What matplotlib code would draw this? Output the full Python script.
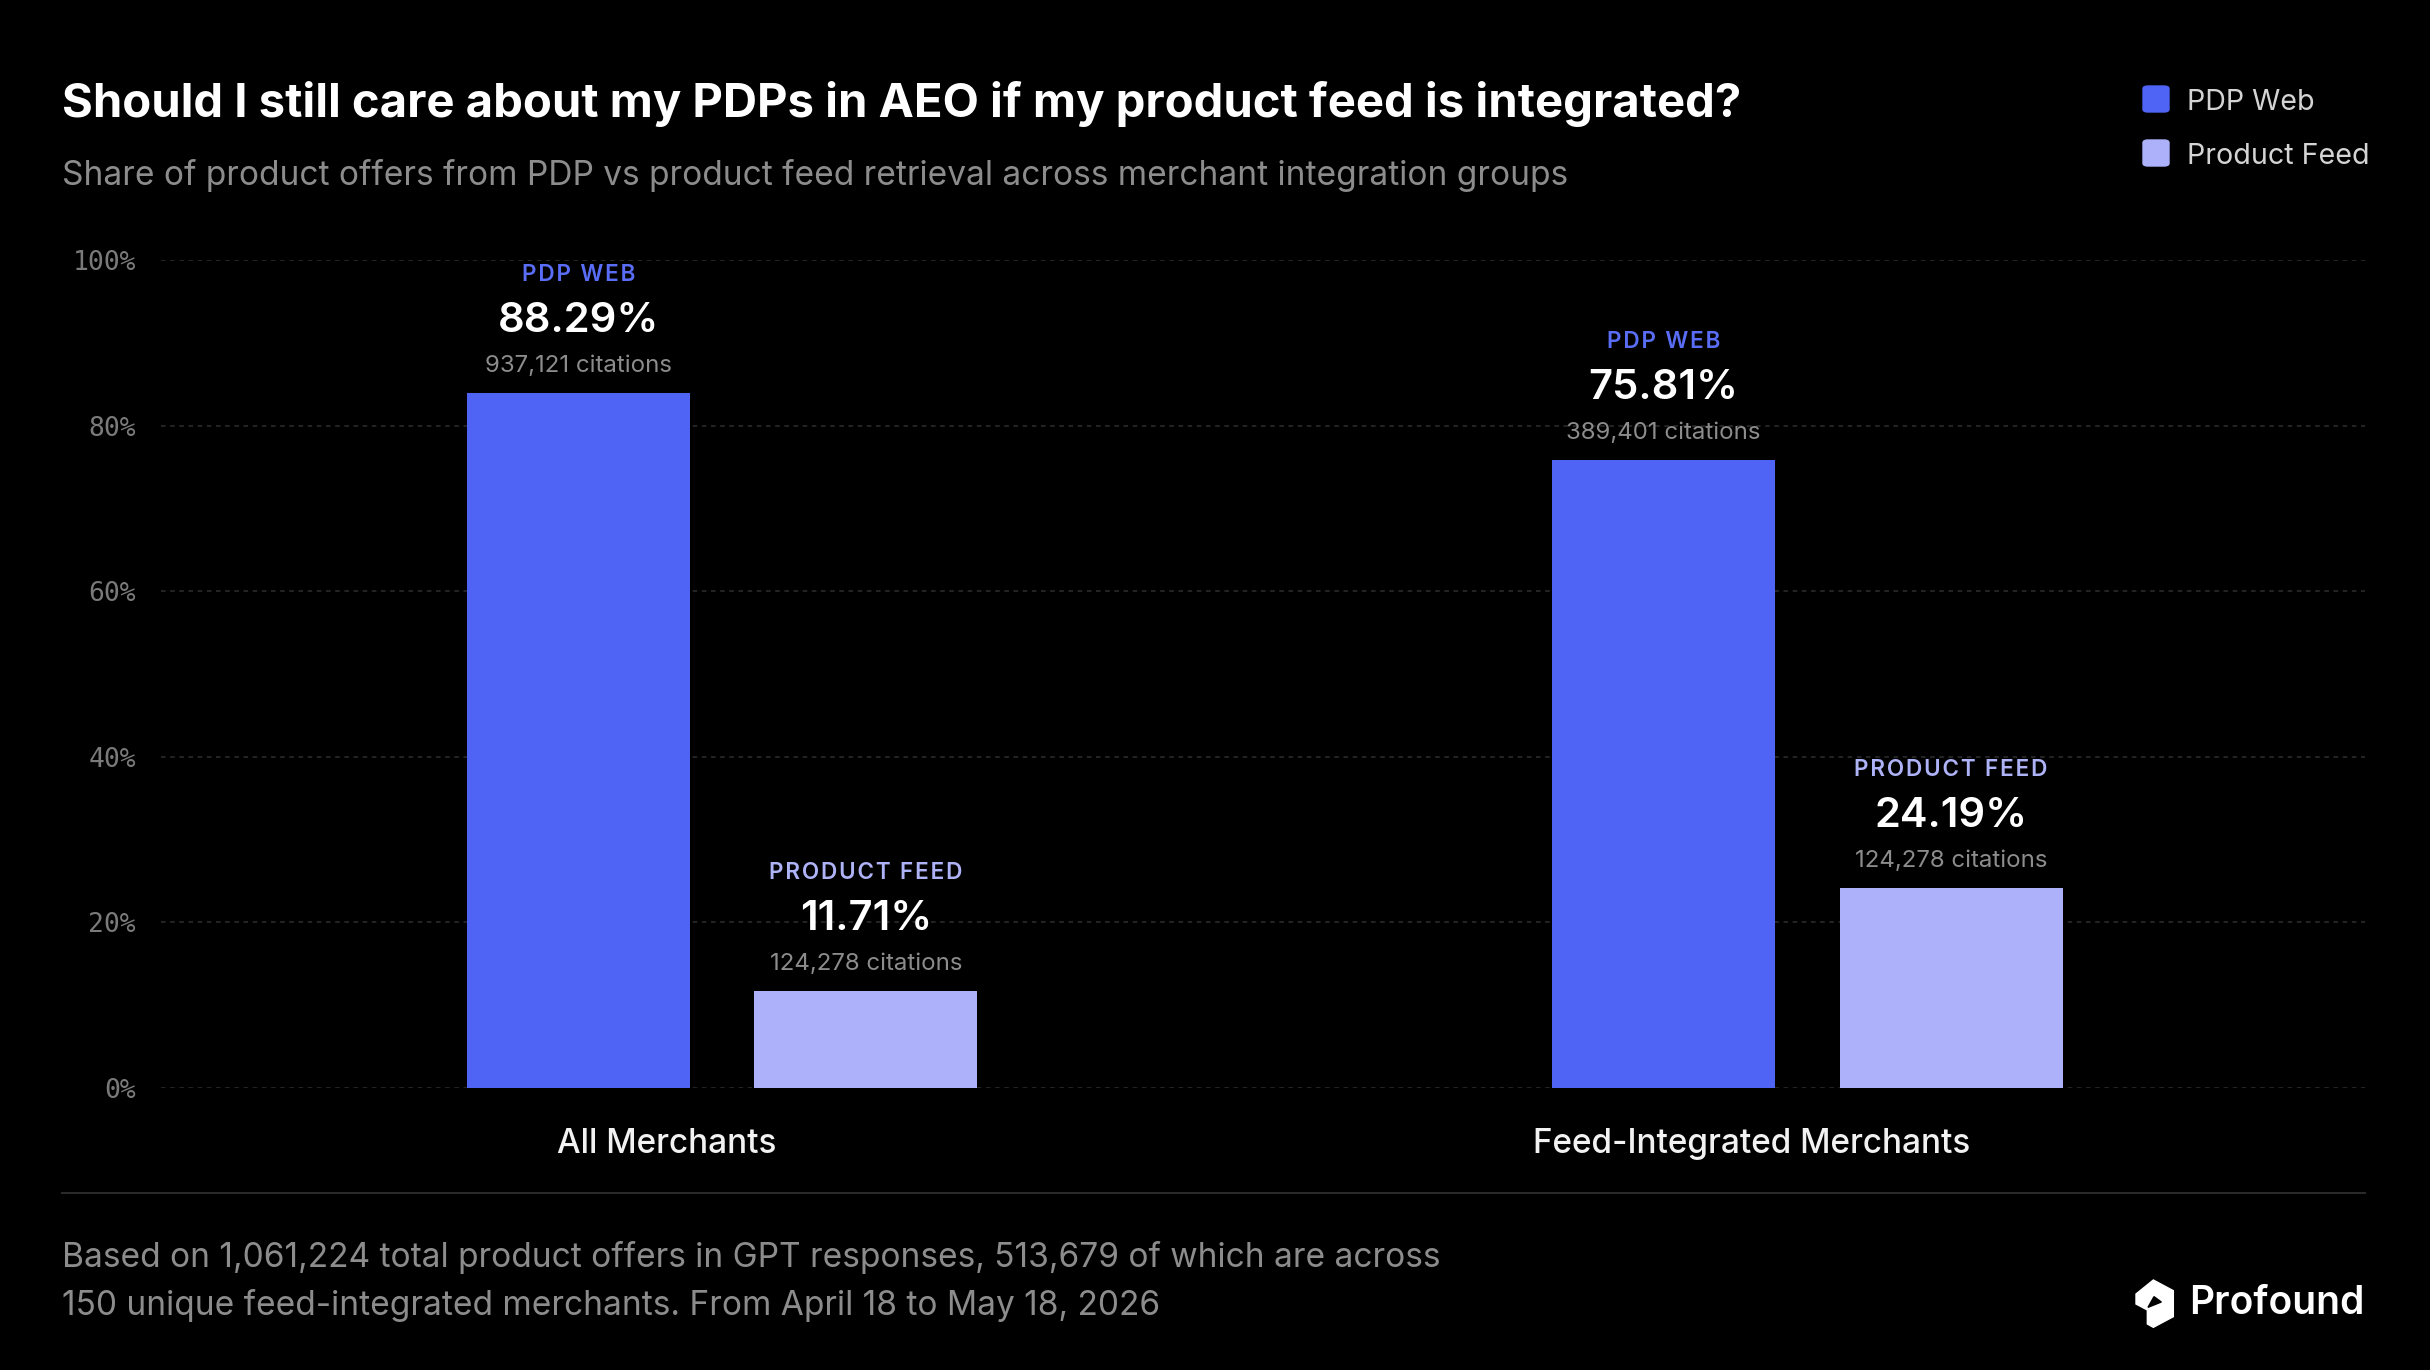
import matplotlib
matplotlib.use("Agg")
import matplotlib.pyplot as plt
from matplotlib.patches import Polygon, FancyBboxPatch
import numpy as np

plt.rcParams['font.family'] = ['Inter', 'DejaVu Sans']

# ---- data ----
groups = ['All Merchants', 'Feed-Integrated Merchants']
series = ['PDP Web', 'Product Feed']
pdp_share = [88.29, 75.81]
feed_share = [11.71, 24.19]
# bar heights as drawn in the source (the first bar is capped below its label value)
pdp_bar = [83.9, 75.81]
feed_bar = [11.71, 24.19]
pdp_citations = ['937,121', '389,401']
feed_citations = ['124,278', '124,278']
yticks = [0, 20, 40, 60, 80, 100]

BG = '#000000'
C_PDP = '#4F64F5'
C_FEED = '#ADB1FA'
C_PDP_TXT = '#5A6DF6'
C_FEED_TXT = '#AEB2F7'
GRAY = '#8C8C8C'

W, H = 2430, 1370
fig = plt.figure(figsize=(W / 100, H / 100), dpi=100, facecolor=BG)


def fx(px):
    return px / W


def fy(py):
    return 1 - py / H


# 坐标轴区域
ax = fig.add_axes([fx(161), fy(1088), fx(2365) - fx(161), fy(260) - fy(1088)])
ax.set_facecolor(BG)
ax.set_xlim(-0.517, 1.514)
ax.set_ylim(0, 100)

x = np.arange(len(groups))
bw = 0.2055
off = 0.1325

for yv in yticks:
    ax.axhline(yv, color='#2E2E2E', lw=1.1, ls=(0, (3, 3)), zorder=0)

ax.bar(x - off, pdp_bar, width=bw, color=C_PDP, zorder=2)
ax.bar(x + off, feed_bar, width=bw, color=C_FEED, zorder=2)


def spaced(s):
    return '\u200a'.join(list(s))


def bar_labels(xpos, top, name, color, share, cites):
    ax.annotate(spaced(name), (xpos, top), xytext=(0, 118), textcoords='offset pixels',
                ha='center', va='center', fontsize=16.2, fontweight='semibold',
                color=color, annotation_clip=False)
    ax.annotate(f'{share:.2f}%', (xpos, top), xytext=(0, 72), textcoords='offset pixels',
                ha='center', va='center', fontsize=30, fontweight='semibold',
                color='white', annotation_clip=False)
    ax.annotate(f'{cites} citations', (xpos, top), xytext=(0, 27), textcoords='offset pixels',
                ha='center', va='center', fontsize=17.3, color=GRAY,
                annotation_clip=False)


for i in range(len(groups)):
    bar_labels(x[i] - off, pdp_bar[i], 'PDP WEB', C_PDP_TXT, pdp_share[i], pdp_citations[i])
    bar_labels(x[i] + off, feed_bar[i], 'PRODUCT FEED', C_FEED_TXT, feed_share[i], feed_citations[i])

ax.set_yticks(yticks)
ax.set_yticklabels([f'{v}%' for v in yticks], fontfamily='DejaVu Sans Mono',
                   fontsize=19, color='#7A7A7A')
ax.set_xticks(x - 0.051)
ax.set_xticklabels(groups, fontsize=24, fontweight='medium', color='#F2F2F2')
ax.tick_params(axis='y', length=0, pad=18)
ax.tick_params(axis='x', length=0, pad=29)
for s in ax.spines.values():
    s.set_visible(False)

# 标题
fig.text(fx(62), fy(104), 'Should I still care about my PDPs in AEO if my product feed is integrated?',
         fontsize=34, fontweight='bold', color='white', va='center', ha='left')
fig.text(fx(62), fy(175), 'Share of product offers from PDP vs product feed retrieval across merchant integration groups',
         fontsize=24.1, color=GRAY, va='center', ha='left')

# 图例
for j, (lab, col) in enumerate(zip(series, [C_PDP, C_FEED])):
    yy = 99 + j * 54
    fig.patches.append(FancyBboxPatch((fx(2143), fy(yy + 13)), fx(26), fy(0) - fy(26),
                                      boxstyle='round,pad=0,rounding_size=0.002',
                                      transform=fig.transFigure, color=col))
    fig.text(fx(2187), fy(yy + 3), lab, fontsize=20.6, color='#D4D4D4', va='center', ha='left')

# 分隔线
fig.add_artist(plt.Line2D([fx(62), fx(2365)], [fy(1193), fy(1193)], color='#2A2A2A', lw=1.5))

# 脚注
fig.text(fx(62), fy(1258), 'Based on 1,061,224 total product offers in GPT responses, 513,679 of which are across',
         fontsize=24.1, color=GRAY, va='center', ha='left')
fig.text(fx(62), fy(1305), '150 unique feed-integrated merchants. From April 18 to May 18, 2026',
         fontsize=24.1, color=GRAY, va='center', ha='left')

# logo
fig.text(fx(2365), fy(1303), 'Profound', fontsize=28, fontweight='semibold', color='white',
         va='center', ha='right')
logo = [(100, 30), (160, 62), (160, 140), (100, 172), (82, 162), (82, 120),
        (48, 102), (48, 72)]
logo_px = [(fx(2120 + a / 3), fy(1270 + b / 3)) for a, b in logo]
fig.patches.append(Polygon(logo_px, closed=True, transform=fig.transFigure,
                           color='white'))
notch = [(84, 112), (124, 96), (102, 80)]
notch_px = [(fx(2120 + a / 3), fy(1270 + b / 3)) for a, b in notch]
fig.patches.append(Polygon(notch_px, closed=True, transform=fig.transFigure,
                           color=BG))

fig.savefig('out.png', dpi=100, facecolor=BG)
